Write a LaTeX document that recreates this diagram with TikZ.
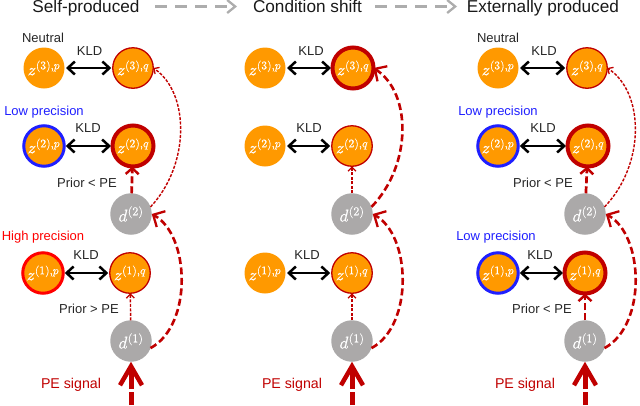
\documentclass[tikz,border=0pt]{standalone}
\usepackage{fontspec}
\usepackage{unicode-math}
\setmainfont{Liberation Sans}
\setmathfont{Latin Modern Math}[FakeBold=0.5]
\usetikzlibrary{arrows.meta}
\definecolor{org}{HTML}{FF9900}
\definecolor{grayn}{HTML}{ABA9A9}
\definecolor{dred}{HTML}{C00000}
\definecolor{hdr}{HTML}{ADADAD}
\definecolor{lowb}{HTML}{1F1FFF}
\tikzset{
 x=1pt,y=-1pt,
 zn/.style={circle,fill=org,minimum size=41pt,inner sep=0pt,outer sep=0pt,text=white,font=\fontsize{16.5}{16.5}\selectfont},
 thinq/.style={zn,draw=dred,line width=1.3pt,minimum size=40.5pt},
 thickq/.style={zn,draw=dred,line width=4pt,minimum size=41pt},
 lowp/.style={zn,draw=lowb,line width=3pt,minimum size=40.5pt},
 highp/.style={zn,draw=red,line width=3pt,minimum size=40.5pt},
 dn/.style={circle,fill=grayn,minimum size=41.5pt,inner sep=0pt,outer sep=0pt,text=white,font=\fontsize{17}{17}\selectfont},
 kld/.style={{Straight Barb[length=7pt,width=13pt,line width=2.5pt]}-{Straight Barb[length=7pt,width=13pt,line width=2.5pt]},line width=2.2pt,black,shorten >=1.5pt,shorten <=1.5pt},
 tx/.style={font=\fontsize{13}{13}\selectfont,text=black!85,inner sep=0pt},
 petx/.style={font=\fontsize{14.2}{14.2}\selectfont,text=dred,inner sep=0pt},
 hd/.style={font=\fontsize{17.2}{17.2}\selectfont,text=black!90,inner sep=0pt,anchor=base},
 thinsig/.style={-{Straight Barb[length=4pt,width=8pt,line width=1.3pt]},dred,line width=1.4pt,dash pattern=on 3pt off 1.5pt},
 shortsig/.style={-{Straight Barb[length=6pt,width=13pt,line width=2.4pt]},dred,line width=2.7pt,dash pattern=on 7pt off 3pt},
 thicksig/.style={-{Straight Barb[length=9pt,width=18pt,line width=2.3pt]},dred,line width=2.6pt,dash pattern=on 7pt off 3.5pt},
 pesig/.style={-{Straight Barb[length=19pt,width=22pt,line width=4.5pt]},dred,line width=5pt,dash pattern=on 13pt off 3pt on 40pt off 0pt},
 hdarrow/.style={-{Straight Barb[length=8pt,width=13pt,line width=2.3pt]},hdr,line width=2.6pt,dash pattern=on 12pt off 8pt},
}
\newcommand{\zlab}[2]{$z^{(#1),#2}$}
\newcommand{\dlab}[1]{$d^{(#1)}$}
\begin{document}
\begin{tikzpicture}
\useasboundingbox (0,0) rectangle (640,405);
\node[hd] (h1) at (86,12.5) {Self-produced};
\node[hd] (h2) at (307.5,12.5) {Condition shift};
\node[hd] (h3) at (543,12.5) {Externally produced};
\coordinate (h1r) at (155,6.5);
\coordinate (h2l) at (237,6.5);
\coordinate (h2r) at (375,6.5);
\coordinate (h3l) at (457,6.5);
\draw[hdarrow] (h1r) -- (h2l);
\draw[hdarrow] (h2r) -- (h3l);
% left
\node[zn] (a3p) at (44,68) {\zlab{3}{p}};
\node[thinq] (a3q) at (133,68) {\zlab{3}{q}};
\node[lowp] (a2p) at (44,146) {\zlab{2}{p}};
\node[thickq] (a2q) at (133,146) {\zlab{2}{q}};
\node[highp] (a1p) at (43,273) {\zlab{1}{p}};
\node[thinq] (a1q) at (130,273) {\zlab{1}{q}};
\node[dn] (a2d) at (131,214) {\dlab{2}};
\node[dn] (a1d) at (131,341) {\dlab{1}};
\coordinate (a0) at (131,405);
\node[tx] (an) at (43,38) {Neutral};
\node[tx,text=lowb] (al2) at (44,112) {Low precision};
\node[tx,text=red] (ah1) at (43,237) {High precision};
\node[tx] (ak3) at (89.5,51) {KLD};
\node[tx] (ak2) at (88,128) {KLD};
\node[tx] (ak1) at (86,255) {KLD};
\node[tx] (ap2) at (87,183) {Prior < PE};
\node[tx] (ap1) at (89,309) {Prior > PE};
\node[petx] (ape) at (71,385) {PE signal};
\draw[kld] (a3p) -- (a3q);
\draw[kld] (a2p) -- (a2q);
\draw[kld] (a1p) -- (a1q);
\draw[shortsig] (a2d) -- (a2q);
\draw[thinsig] (a1d) -- (a1q);
\draw[pesig] (a0) -- (a1d);
\draw[thinsig] (a2d.20) .. controls (190,165) and (190,93) .. (a3q.east);
\draw[thicksig] (a1d.-20) .. controls (193,325) and (190,235) .. (a2d.east);
% middle
\node[zn] (b3p) at (265,68) {\zlab{3}{p}};
\node[thickq] (b3q) at (353,68) {\zlab{3}{q}};
\node[zn] (b2p) at (265,146) {\zlab{2}{p}};
\node[thinq] (b2q) at (352,146) {\zlab{2}{q}};
\node[zn] (b1p) at (265,273) {\zlab{1}{p}};
\node[thinq] (b1q) at (352,273) {\zlab{1}{q}};
\node[dn] (b2d) at (352,214) {\dlab{2}};
\node[dn] (b1d) at (352,341) {\dlab{1}};
\coordinate (b0) at (352,405);
\node[tx] (bk3) at (311,51) {KLD};
\node[tx] (bk2) at (309,128) {KLD};
\node[tx] (bk1) at (307,255) {KLD};
\node[petx] (bpe) at (292,385) {PE signal};
\draw[kld] (b3p) -- (b3q);
\draw[kld] (b2p) -- (b2q);
\draw[kld] (b1p) -- (b1q);
\draw[thinsig] (b2d) -- (b2q);
\draw[thinsig] (b1d) -- (b1q);
\draw[pesig] (b0) -- (b1d);
\draw[thicksig] (b2d.20) .. controls (412,165) and (412,93) .. (b3q.east);
\draw[thicksig] (b1d.-20) .. controls (414,325) and (411,235) .. (b2d.east);
% right
\node[zn] (c3p) at (498,68) {\zlab{3}{p}};
\node[thinq] (c3q) at (587,68) {\zlab{3}{q}};
\node[lowp] (c2p) at (498,146) {\zlab{2}{p}};
\node[thickq] (c2q) at (588,146) {\zlab{2}{q}};
\node[lowp] (c1p) at (498,273) {\zlab{1}{p}};
\node[thickq] (c1q) at (585,273) {\zlab{1}{q}};
\node[dn] (c2d) at (585,214) {\dlab{2}};
\node[dn] (c1d) at (585,341) {\dlab{1}};
\coordinate (c0) at (585,405);
\node[tx] (cn) at (498,38) {Neutral};
\node[tx,text=lowb] (cl2) at (498,112) {Low precision};
\node[tx,text=lowb] (cl1) at (496,237) {Low precision};
\node[tx] (ck3) at (544,51) {KLD};
\node[tx] (ck2) at (543,128) {KLD};
\node[tx] (ck1) at (540,255) {KLD};
\node[tx] (cp2) at (543,183) {Prior < PE};
\node[tx] (cp1) at (542,309) {Prior < PE};
\node[petx] (cpe) at (525,385) {PE signal};
\draw[kld] (c3p) -- (c3q);
\draw[kld] (c2p) -- (c2q);
\draw[kld] (c1p) -- (c1q);
\draw[shortsig] (c2d) -- (c2q);
\draw[shortsig] (c1d) -- (c1q);
\draw[pesig] (c0) -- (c1d);
\draw[thinsig] (c2d.20) .. controls (645,165) and (645,93) .. (c3q.east);
\draw[thicksig] (c1d.-20) .. controls (647,325) and (644,235) .. (c2d.east);
\end{tikzpicture}
\end{document}
